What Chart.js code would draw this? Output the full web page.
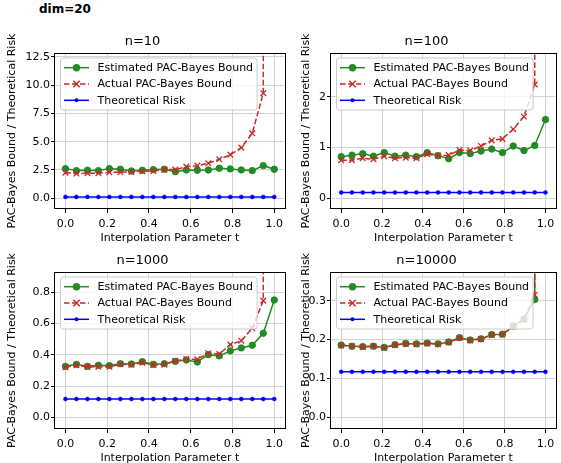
<!DOCTYPE html>
<html>
<head>
<meta charset="utf-8">
<script src="https://cdn.jsdelivr.net/npm/chart.js@4.4.0/dist/chart.umd.min.js"></script>
<style>
html,body{margin:0;padding:0;background:#fff;width:561px;height:463px;overflow:hidden;position:relative;}
#sup{position:absolute;left:39px;top:2px;font:bold 12px "DejaVu Sans";line-height:14px;color:#000;}
canvas{position:absolute;}
</style>
</head>
<body>
<div id="sup">dim=20</div>
<canvas id="c0" width="290" height="213" style="left:0px;top:32px"></canvas>
<canvas id="c1" width="267" height="213" style="left:294px;top:32px"></canvas>
<canvas id="c2" width="290" height="214" style="left:0px;top:251px"></canvas>
<canvas id="c3" width="267" height="214" style="left:294px;top:251px"></canvas>
<script>
// ---- data ----
const tValues = [0.0000, 0.0526, 0.1053, 0.1579, 0.2105, 0.2632, 0.3158, 0.3684, 0.4211, 0.4737,
                 0.5263, 0.5789, 0.6316, 0.6842, 0.7368, 0.7895, 0.8421, 0.8947, 0.9474, 1.0000];
const DIVERGES = 1e6; // bound diverges at t = 1 (off the top of the axes)

const est10  = [2.62,2.44,2.47,2.44,2.62,2.56,2.41,2.47,2.53,2.56,2.35,2.50,2.47,2.50,2.65,2.59,2.50,2.44,2.88,2.56];
const act10  = [2.26,2.18,2.21,2.21,2.29,2.29,2.32,2.38,2.41,2.53,2.53,2.79,2.88,3.09,3.44,3.85,4.47,5.74,9.28,DIVERGES];

const est100 = [0.82,0.85,0.88,0.83,0.90,0.83,0.85,0.82,0.90,0.84,0.78,0.90,0.88,0.93,0.97,0.90,1.03,0.94,1.04,1.55];
const act100 = [0.75,0.75,0.79,0.77,0.83,0.79,0.80,0.79,0.87,0.84,0.85,0.95,0.94,1.03,1.14,1.17,1.36,1.61,2.24,DIVERGES];

const est1000 = [0.326,0.339,0.326,0.333,0.331,0.343,0.341,0.356,0.339,0.343,0.358,0.367,0.354,0.401,0.393,0.425,0.444,0.461,0.538,0.751];
const act1000 = [0.320,0.333,0.322,0.324,0.324,0.339,0.337,0.350,0.335,0.337,0.361,0.373,0.371,0.410,0.405,0.465,0.490,0.570,0.747,DIVERGES];

const est10000 = [0.186,0.183,0.182,0.183,0.180,0.187,0.190,0.189,0.191,0.189,0.194,0.205,0.199,0.202,0.213,0.214,0.235,0.253,0.303,DIVERGES];
const act10000 = [0.185,0.183,0.181,0.183,0.179,0.186,0.189,0.188,0.190,0.188,0.193,0.204,0.198,0.201,0.212,0.213,0.234,0.252,0.315,DIVERGES];

const theoreticalRisk = [0.117,0.117,0.117,0.117,0.117,0.117,0.117,0.117,0.117,0.117,
                         0.117,0.117,0.117,0.117,0.117,0.117,0.117,0.117,0.117,0.117];

const xTicks = [0.0, 0.2, 0.4, 0.6, 0.8, 1.0];
const yTicks10 = [0.0, 2.5, 5.0, 7.5, 10.0, 12.5];
const yTicks100 = [0, 1, 2];
const yTicks1000 = [0.0, 0.2, 0.4, 0.6, 0.8];
const yTicks10000 = [0.0, 0.1, 0.2, 0.3];

const seriesNames = ['Estimated PAC-Bayes Bound', 'Actual PAC-Bayes Bound', 'Theoretical Risk'];
const titles = ['n=10', 'n=100', 'n=1000', 'n=10000'];

// ---- styling ----
const GREEN = '#238b23', RED = '#c62a2a', BLUE = '#0000ff';
Chart.defaults.font.family = '"DejaVu Sans"';
Chart.defaults.font.size = 11;
Chart.defaults.color = '#000';

const FONT = '11px "DejaVu Sans"';

function drawMarker(ctx, style, x, y, r, color) {
  ctx.save();
  ctx.fillStyle = color; ctx.strokeStyle = color;
  if (style === 'circle') {
    ctx.beginPath(); ctx.arc(x, y, r, 0, Math.PI * 2); ctx.fill();
  } else {
    ctx.lineWidth = 1.5; ctx.setLineDash([]);
    ctx.beginPath();
    ctx.moveTo(x - r, y - r); ctx.lineTo(x + r, y + r);
    ctx.moveTo(x - r, y + r); ctx.lineTo(x + r, y - r);
    ctx.stroke();
  }
  ctx.restore();
}

const framePlugin = {
  id: 'mplFrameLegend',
  afterDatasetsDraw(chart) {
    const ctx = chart.ctx, a = chart.chartArea;
    ctx.save();
    // spines
    ctx.strokeStyle = '#000'; ctx.lineWidth = 1;
    const l = Math.round(a.left) - 0.5, t = Math.round(a.top) + 0.5;
    const r = Math.round(a.right) + 0.5, b = Math.round(a.bottom) - 0.5;
    ctx.strokeRect(l, t, r - l, b - t);
    // legend
    ctx.font = FONT;
    let maxW = 0;
    seriesNames.forEach(n => { maxW = Math.max(maxW, ctx.measureText(n).width); });
    const bx = a.left + 5.5, by = a.top + 5;
    const bw = 3.5 + 25 + 8.5 + maxW + 4, bh = 52;
    ctx.beginPath();
    if (ctx.roundRect) ctx.roundRect(bx, by, bw, bh, 3); else ctx.rect(bx, by, bw, bh);
    ctx.fillStyle = 'rgba(255,255,255,0.8)'; ctx.fill();
    ctx.strokeStyle = '#cccccc'; ctx.lineWidth = 1; ctx.stroke();
    const ds = chart.data.datasets;
    ds.forEach((d, i) => {
      const cy = by + 9.7 + i * 16.3;
      const x0 = bx + 3.5, x1 = x0 + 25;
      ctx.strokeStyle = d.borderColor; ctx.lineWidth = 1.5;
      ctx.setLineDash(d.borderDash || []);
      ctx.beginPath(); ctx.moveTo(x0, cy); ctx.lineTo(x1, cy); ctx.stroke();
      ctx.setLineDash([]);
      drawMarker(ctx, d.pointStyle, (x0 + x1) / 2, cy, d.legendMarker, d.borderColor);
      ctx.fillStyle = '#000'; ctx.textBaseline = 'middle'; ctx.textAlign = 'left';
      ctx.fillText(d.label, x1 + 8.5, cy + 0.5);
    });
    ctx.restore();
  }
};

function makeChart(id, title, est, act, yMin, yMax, yTicks, yDigits, yAxisWidth, padRight) {
  const pts = arr => tValues.map((t, i) => ({x: t, y: arr[i]}));
  return new Chart(document.getElementById(id), {
    type: 'line',
    data: {
      datasets: [
        {label: seriesNames[0], data: pts(est), borderColor: GREEN, backgroundColor: GREEN,
         borderWidth: 1.5, pointStyle: 'circle', pointRadius: 3.2, pointBorderWidth: 1,
         pointBackgroundColor: GREEN, pointBorderColor: GREEN, order: 3, legendMarker: 3.7},
        {label: seriesNames[1], data: pts(act), borderColor: RED, backgroundColor: RED,
         borderWidth: 1.5, borderDash: [5.5, 2.5], pointStyle: 'crossRot', pointRadius: 4,
         pointBorderWidth: 1.3, pointBorderColor: RED, order: 2, legendMarker: 3.2},
        {label: seriesNames[2], data: pts(theoreticalRisk), borderColor: BLUE, backgroundColor: BLUE,
         borderWidth: 1.5, pointStyle: 'circle', pointRadius: 2, pointBorderWidth: 0.5,
         pointBackgroundColor: BLUE, pointBorderColor: BLUE, order: 1, legendMarker: 2}
      ]
    },
    options: {
      responsive: false,
      animation: false,
      events: [],
      layout: {padding: {left: 0, right: padRight, top: 0, bottom: 0}},
      plugins: {
        legend: {display: false},
        tooltip: {enabled: false},
        title: {display: true, text: title, font: {size: 13, weight: 'normal'}, color: '#000',
                padding: {top: 2, bottom: 3.4}}
      },
      scales: {
        x: {
          type: 'linear', min: -0.05, max: 1.05,
          afterBuildTicks: s => { s.ticks = xTicks.map(v => ({value: v})); },
          afterFit: s => { s.height = 36; },
          ticks: {callback: v => Number(v).toFixed(1), padding: 4.5, maxRotation: 0, autoSkip: false, color: '#000'},
          grid: {color: '#d3d3d3', lineWidth: 1, tickColor: '#000', tickLength: 4, drawTicks: true},
          border: {display: false},
          title: {display: true, text: 'Interpolation Parameter t', color: '#000', padding: {top: 0, bottom: 0.5}}
        },
        y: {
          type: 'linear', min: yMin, max: yMax,
          afterBuildTicks: s => { s.ticks = yTicks.map(v => ({value: v})); },
          afterFit: s => { s.width = yAxisWidth; },
          ticks: {callback: v => Number(v).toFixed(yDigits), padding: 1, autoSkip: false, color: '#000'},
          grid: {color: '#d3d3d3', lineWidth: 1, tickColor: '#000', tickLength: 4, drawTicks: true},
          border: {display: false},
          title: {display: true, text: 'PAC-Bayes Bound / Theoretical Risk', color: '#000', padding: {top: 5.4, bottom: 0}}
        }
      }
    },
    plugins: [framePlugin]
  });
}

makeChart('c0', titles[0], est10, act10, -0.95, 12.83, yTicks10, 1, 55, 5);
makeChart('c1', titles[1], est100, act100, -0.21, 2.86, yTicks100, 0, 37, 2);
makeChart('c2', titles[2], est1000, act1000, -0.075, 0.93, yTicks1000, 1, 55, 5);
makeChart('c3', titles[3], est10000, act10000, -0.030, 0.374, yTicks10000, 1, 37, 2);
</script>
</body>
</html>
